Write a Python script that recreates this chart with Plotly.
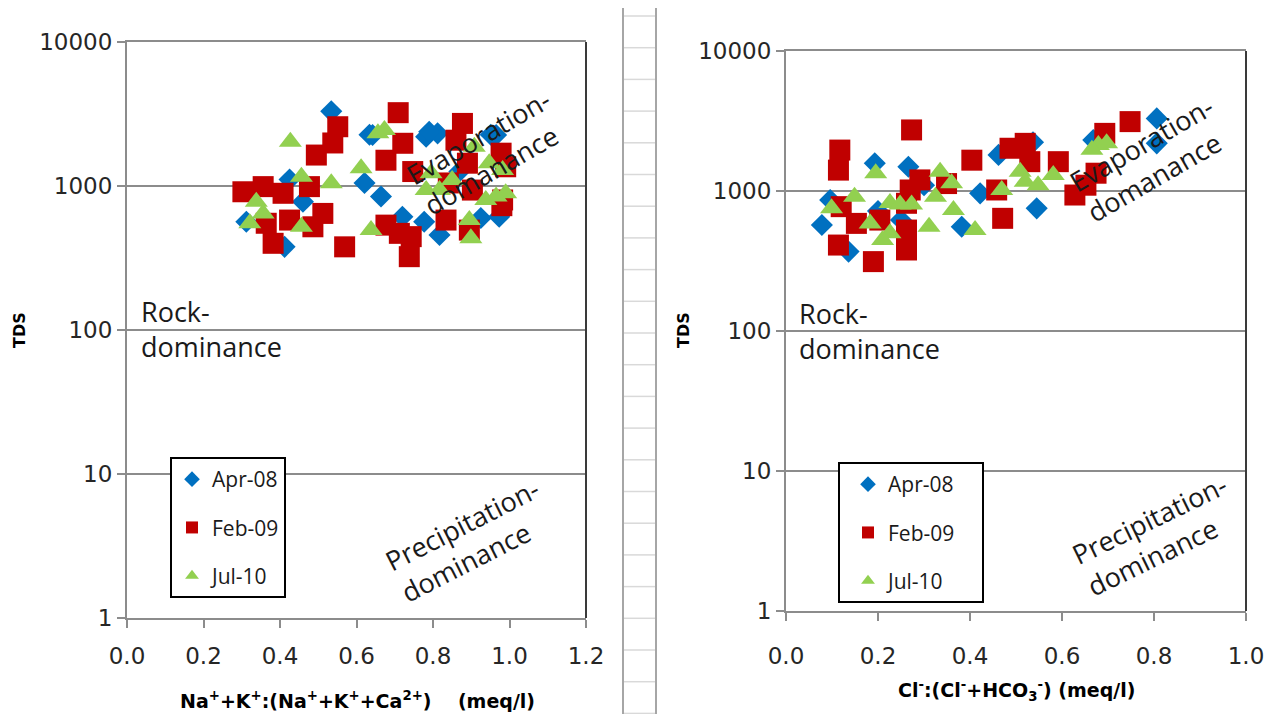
import plotly.graph_objects as go

W, H = 1268, 714

# ---------------- data ----------------
series_names = ["Apr-08", "Feb-09", "Jul-10"]

# Left panel: Na+K : (Na+K+Ca)  vs TDS
left_apr_x = [0.534, 0.642, 0.782, 0.812, 0.951, 0.425, 0.621, 0.664, 0.46, 0.312, 0.412,
              0.777, 0.817, 0.973, 0.72, 0.925, 0.869, 0.79, 0.965, 0.634]
left_apr_y = [3300, 2260, 2200, 2320, 2270, 1110, 1050, 845, 778, 565, 378,
              565, 457, 612, 612, 600, 1260, 2380, 2260, 2270]

left_feb_x = [0.709, 0.551, 0.538, 0.495, 0.877, 0.86, 0.721, 0.677, 0.747, 0.978, 0.99,
              0.89, 0.303, 0.356, 0.408, 0.477, 0.512, 0.486, 0.425, 0.364, 0.382, 0.569,
              0.677, 0.712, 0.738, 0.743, 0.834, 0.895, 0.982, 0.903, 0.84, 0.98]
left_feb_y = [3230, 2580, 1990, 1640, 2720, 2080, 1980, 1510, 1260, 1690, 1360,
              1440, 912, 990, 890, 990, 645, 521, 580, 551, 400, 378,
              535, 469, 323, 445, 580, 494, 800, 937, 1050, 730]

left_jul_x = [0.427, 0.656, 0.673, 0.908, 0.456, 0.534, 0.612, 0.795, 0.782, 0.947, 0.982,
              0.99, 0.965, 0.938, 0.338, 0.356, 0.321, 0.456, 0.638, 0.895, 0.899, 0.817, 0.85]
left_jul_y = [2030, 2320, 2450, 1870, 1160, 1045, 1330, 1225, 937, 1440, 1290,
              890, 845, 800, 778, 645, 551, 521, 494, 580, 433, 937, 1100]

# Right panel: Cl : (Cl+HCO3) vs TDS
right_apr_x = [0.806, 0.806, 0.193, 0.266, 0.462, 0.537, 0.422, 0.545, 0.382, 0.096, 0.078,
               0.136, 0.668, 0.30, 0.25, 0.20]
right_apr_y = [3300, 2190, 1580, 1490, 1810, 2230, 962, 752, 556, 863, 571,
               369, 2310, 1100, 620, 720]

right_feb_x = [0.273, 0.117, 0.114, 0.404, 0.748, 0.693, 0.487, 0.52, 0.53, 0.592, 0.674,
               0.652, 0.628, 0.458, 0.471, 0.291, 0.27, 0.262, 0.262, 0.262, 0.114, 0.19,
               0.153, 0.12, 0.349, 0.204]
right_feb_y = [2730, 1960, 1410, 1660, 3130, 2580, 2020, 2190, 1620, 1620, 1340,
               1100, 936, 1017, 638, 1200, 1017, 817, 526, 379, 411, 313,
               587, 773, 1130, 620]

right_jul_x = [0.195, 0.149, 0.099, 0.226, 0.248, 0.273, 0.335, 0.36, 0.325, 0.311, 0.364,
               0.411, 0.183, 0.21, 0.226, 0.469, 0.509, 0.52, 0.548, 0.581, 0.679, 0.697, 0.665]
right_jul_y = [1340, 910, 752, 820, 800, 800, 1375, 1135, 910, 556, 731,
               526, 587, 447, 500, 1017, 1375, 1166, 1100, 1300, 2130, 2190, 1970]

y_tickvals = [1, 10, 100, 1000, 10000]
y_ticktext = ["1", "10", "100", "1000", "10000"]
left_xticks = [0.0, 0.2, 0.4, 0.6, 0.8, 1.0, 1.2]
right_xticks = [0.0, 0.2, 0.4, 0.6, 0.8, 1.0]

# ---------------- styling ----------------
symbols = ["diamond", "square", "triangle-up"]
colors = ["#0070C0", "#C00000", "#92D050"]
sizes = [17, 21, 20]
NBSP = "\u00a0"

fig = go.Figure()

left_data = [(left_apr_x, left_apr_y), (left_feb_x, left_feb_y), (left_jul_x, left_jul_y)]
right_data = [(right_apr_x, right_apr_y), (right_feb_x, right_feb_y), (right_jul_x, right_jul_y)]

for i, (xs, ys) in enumerate(left_data):
    fig.add_trace(go.Scatter(
        x=xs, y=ys, mode="markers", name=series_names[i],
        marker=dict(symbol=symbols[i], color=colors[i], size=sizes[i], line=dict(width=0)),
        xaxis="x", yaxis="y", legend="legend", legendgroup="L" + str(i)))
for i, (xs, ys) in enumerate(right_data):
    fig.add_trace(go.Scatter(
        x=xs, y=ys, mode="markers", name=series_names[i] + NBSP * 4,
        marker=dict(symbol=symbols[i], color=colors[i], size=sizes[i], line=dict(width=0)),
        xaxis="x2", yaxis="y2", legend="legend2", legendgroup="R" + str(i)))

def px(x):
    return x / W

def py(y):
    return 1 - y / H

tickfont = dict(family="DejaVu Sans", size=23, color="#262626")
axis_gray = "#8C8C8C"

common_x = dict(showline=True, linecolor=axis_gray, linewidth=2, ticks="outside", ticklen=8,
                tickcolor=axis_gray, tickwidth=1.5, showgrid=False, zeroline=False,
                tickfont=tickfont, tickformat=".1f", mirror=True, automargin=False)
common_y = dict(type="log", range=[0, 4], tickvals=y_tickvals, ticktext=y_ticktext,
                showline=True, linecolor=axis_gray, linewidth=2, ticks="outside", ticklen=8,
                tickcolor=axis_gray, tickwidth=1.5, showgrid=True, gridcolor=axis_gray,
                gridwidth=1.5, zeroline=False, tickfont=tickfont, automargin=False)

L_left, L_right, L_top, L_bot = 127, 586, 42, 618
R_left, R_right, R_top, R_bot = 786, 1246, 51, 611

legend_common = dict(xanchor="left", yanchor="top",
                     bordercolor="#000000", borderwidth=2, bgcolor="white",
                     font=dict(family="Open Sans", size=21, color="#1a1a1a"),
                     traceorder="grouped", tracegroupgap=18, itemwidth=30,
                     itemsizing="constant")

fig.update_layout(
    width=W, height=H,
    margin=dict(l=0, r=0, t=0, b=0, pad=0, autoexpand=False),
    paper_bgcolor="white", plot_bgcolor="white",
    xaxis=dict(domain=[px(L_left), px(L_right)], range=[0, 1.2], tickvals=left_xticks,
               anchor="y", ticklabelstandoff=8, **common_x),
    yaxis=dict(domain=[py(L_bot), py(L_top)], anchor="x", **common_y),
    xaxis2=dict(domain=[px(R_left), px(R_right)], range=[0, 1.0], tickvals=right_xticks,
                anchor="y2", ticklabelstandoff=15, **common_x),
    yaxis2=dict(domain=[py(R_bot), py(R_top)], anchor="x2", **common_y),
    legend=dict(x=px(170), y=py(457), **legend_common),
    legend2=dict(x=px(838), y=py(462), indentation=8, **legend_common),
    showlegend=True,
)

ann_font = dict(family="Open Sans", size=27, color="#1a1a1a")
title_font = dict(family="DejaVu Sans", size=19, color="#000000")
tds_font = dict(family="DejaVu Sans", size=16, color="#000000")

annotations = [
    dict(text="Rock-<br>dominance", x=px(139), y=py(329), xanchor="left", yanchor="middle",
         align="left", font=ann_font),
    dict(text="Rock-<br>dominance", x=px(797), y=py(331), xanchor="left", yanchor="middle",
         align="left", font=ann_font),
    dict(text="Evaporation-<br>domanance", x=px(487), y=py(152), textangle=-30,
         align="left", font=ann_font),
    dict(text="Evaporation-<br>domanance", x=px(1150), y=py(159), textangle=-30,
         align="left", font=ann_font),
    dict(text="Precipitation-<br>dominance", x=px(470), y=py(540), textangle=-27,
         align="left", font=ann_font),
    dict(text="Precipitation-<br>dominance", x=px(1157), y=py(535), textangle=-26,
         align="left", font=ann_font),
    dict(text="<b>Na<sup>+</sup>+K<sup>+</sup>:(Na<sup>+</sup>+K<sup>+</sup>+Ca<sup>2+</sup>)    (meq/l)</b>",
         x=px(357), y=py(700), font=title_font),
    dict(text="<b>Cl<sup>-</sup>:(Cl<sup>-</sup>+HCO<sub>3</sub><sup>-</sup>) (meq/l)</b>",
         x=px(1016), y=py(690), font=title_font),
    dict(text="<b>TDS</b>", x=px(19), y=py(330), textangle=-90, font=tds_font),
    dict(text="<b>TDS</b>", x=px(683), y=py(330), textangle=-90, font=tds_font),
]
for a in annotations:
    a.setdefault("xref", "paper")
    a.setdefault("yref", "paper")
    a.setdefault("xanchor", "center")
    a.setdefault("yanchor", "middle")
    a.setdefault("showarrow", False)
fig.update_layout(annotations=annotations)

shapes = []
# dark right borders of the plot areas
shapes.append(dict(type="line", xref="paper", yref="paper", x0=px(L_right), x1=px(L_right),
                   y0=py(L_bot), y1=py(L_top), line=dict(color="#3A3A3A", width=2)))
shapes.append(dict(type="line", xref="paper", yref="paper", x0=px(R_right), x1=px(R_right),
                   y0=py(R_bot), y1=py(R_top), line=dict(color="#3A3A3A", width=2)))
# spreadsheet strip between the two charts
for k in range(23):
    yy = 16 + 31.7 * k
    if yy > H:
        break
    shapes.append(dict(type="line", xref="paper", yref="paper", x0=px(624), x1=px(655),
                       y0=py(yy), y1=py(yy), line=dict(color="#D9D9D9", width=1.5)))
for xx in (623, 656):
    shapes.append(dict(type="line", xref="paper", yref="paper", x0=px(xx), x1=px(xx),
                       y0=py(8), y1=py(H), line=dict(color="#A6A6A6", width=2)))
fig.update_layout(shapes=shapes)

fig.write_html("out.html")
